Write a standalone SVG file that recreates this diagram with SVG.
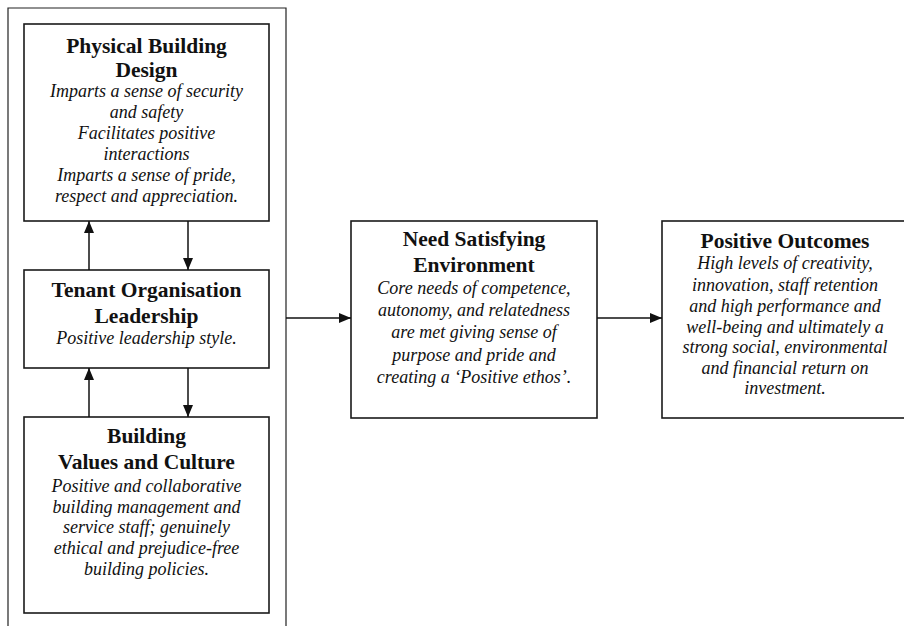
<svg xmlns="http://www.w3.org/2000/svg" width="904" height="626" viewBox="0 0 904 626">
  <style>
    .box { fill: #fff; stroke: #1a1a1a; stroke-width: 1.6; }
    .frame { fill: none; stroke: #222; stroke-width: 1.2; }
    .link { fill: none; stroke: #111; stroke-width: 1.5; }
    .title { font-family: "Liberation Serif", "Times New Roman", serif; font-weight: bold; font-size: 21.5px; fill: #111; text-anchor: middle; }
    .body { font-family: "Liberation Serif", "Times New Roman", serif; font-style: italic; font-size: 18px; fill: #111; text-anchor: middle; }
  </style>
  <defs>
    <marker id="arrow" viewBox="0 0 12 10" refX="12" refY="5" markerWidth="12" markerHeight="10" markerUnits="userSpaceOnUse" orient="auto">
      <path d="M0,0 L12,5 L0,10 Z" fill="#111"/>
    </marker>
  </defs>
  <rect width="904" height="626" fill="#fff"/>

  <!-- enclosing frame around the three building factors -->
  <path class="frame" d="M8,640 V8 H286 V640"/>

  <g id="physical-building-design">
    <rect class="box" x="24" y="24" width="245" height="197"/>
    <text class="title" x="146.5" y="53">Physical Building</text>
    <text class="title" x="146.5" y="77">Design</text>
    <text class="body" x="146.5" y="97">Imparts a sense of security</text>
    <text class="body" x="146.5" y="118">and safety</text>
    <text class="body" x="146.5" y="139">Facilitates positive</text>
    <text class="body" x="146.5" y="160">interactions</text>
    <text class="body" x="146.5" y="181">Imparts a sense of pride,</text>
    <text class="body" x="146.5" y="202">respect and appreciation.</text>
  </g>

  <g id="tenant-leadership">
    <rect class="box" x="24" y="270" width="245" height="98"/>
    <text class="title" x="146.5" y="297">Tenant Organisation</text>
    <text class="title" x="146.5" y="323">Leadership</text>
    <text class="body" x="146.5" y="344">Positive leadership style.</text>
  </g>

  <g id="values-culture">
    <rect class="box" x="24" y="417" width="245" height="196"/>
    <text class="title" x="146.5" y="443">Building</text>
    <text class="title" x="146.5" y="469">Values and Culture</text>
    <text class="body" x="146.5" y="492">Positive and collaborative</text>
    <text class="body" x="146.5" y="513">building management and</text>
    <text class="body" x="146.5" y="533">service staff; genuinely</text>
    <text class="body" x="146.5" y="554">ethical and prejudice-free</text>
    <text class="body" x="146.5" y="575">building policies.</text>
  </g>

  <g id="need-satisfying">
    <rect class="box" x="351" y="221" width="246" height="197"/>
    <text class="title" x="474" y="246">Need Satisfying</text>
    <text class="title" x="474" y="272">Environment</text>
    <text class="body" x="474" y="294">Core needs of competence,</text>
    <text class="body" x="474" y="316">autonomy, and relatedness</text>
    <text class="body" x="474" y="338">are met giving sense of</text>
    <text class="body" x="474" y="361">purpose and pride and</text>
    <text class="body" x="474" y="383">creating a ‘Positive ethos’.</text>
  </g>

  <g id="positive-outcomes">
    <rect class="box" x="662" y="221" width="260" height="197"/>
    <text class="title" x="785" y="248">Positive Outcomes</text>
    <text class="body" x="785" y="269">High levels of creativity,</text>
    <text class="body" x="785" y="291">innovation, staff retention</text>
    <text class="body" x="785" y="312">and high performance and</text>
    <text class="body" x="785" y="333">well-being and ultimately a</text>
    <text class="body" x="785" y="353">strong social, environmental</text>
    <text class="body" x="785" y="374">and financial return on</text>
    <text class="body" x="785" y="394">investment.</text>
  </g>

  <g id="connectors">
    <line class="link" x1="89" y1="270" x2="89" y2="221" marker-end="url(#arrow)"/>
    <line class="link" x1="188" y1="221" x2="188" y2="270" marker-end="url(#arrow)"/>
    <line class="link" x1="89" y1="417" x2="89" y2="368" marker-end="url(#arrow)"/>
    <line class="link" x1="188" y1="368" x2="188" y2="417" marker-end="url(#arrow)"/>
    <line class="link" x1="286" y1="318" x2="351" y2="318" marker-end="url(#arrow)"/>
    <line class="link" x1="597" y1="318" x2="662" y2="318" marker-end="url(#arrow)"/>
  </g>
</svg>
